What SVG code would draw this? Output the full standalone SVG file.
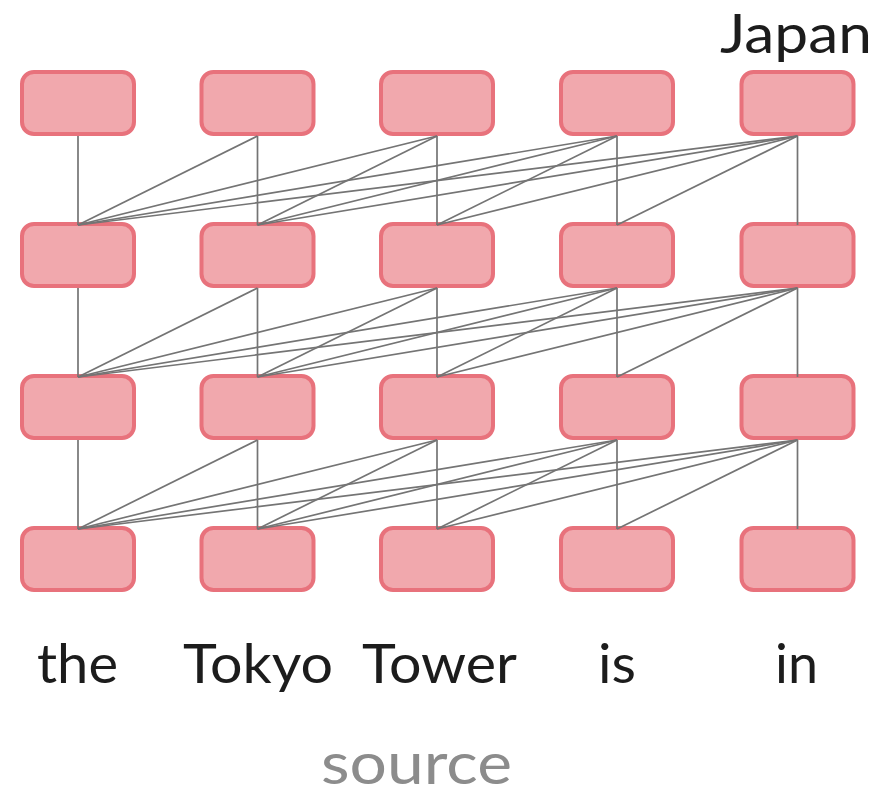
<svg xmlns="http://www.w3.org/2000/svg" width="882" height="797" viewBox="0 0 882 797">
  <style>
    .node { fill: #f1a8ad; stroke: #e8727c; stroke-width: 4; }
    .edges line { stroke: #747474; stroke-width: 1.7; }
    .lbl { font-family: Lato, "Liberation Sans", sans-serif; font-size: 54px; fill: #1c1c1c; text-anchor: middle; }
    .src { font-family: Lato, "Liberation Sans", sans-serif; font-size: 58px; fill: #8c8c8c; text-anchor: middle; }
  </style>
  <defs>
    <rect id="box" x="-56" y="2" width="112" height="62" rx="12" ry="12"/>
  </defs>

  <!-- layer 1 (top) -->
  <g id="n3-0" class="node"><use href="#box" x="78" y="70"/></g>
  <g id="n3-1" class="node"><use href="#box" x="257.5" y="70"/></g>
  <g id="n3-2" class="node"><use href="#box" x="437" y="70"/></g>
  <g id="n3-3" class="node"><use href="#box" x="617" y="70"/></g>
  <g id="n3-4" class="node"><use href="#box" x="797.5" y="70"/></g>
  <!-- layer 2 -->
  <g id="n2-0" class="node"><use href="#box" x="78" y="222"/></g>
  <g id="n2-1" class="node"><use href="#box" x="257.5" y="222"/></g>
  <g id="n2-2" class="node"><use href="#box" x="437" y="222"/></g>
  <g id="n2-3" class="node"><use href="#box" x="617" y="222"/></g>
  <g id="n2-4" class="node"><use href="#box" x="797.5" y="222"/></g>
  <!-- layer 3 -->
  <g id="n1-0" class="node"><use href="#box" x="78" y="374"/></g>
  <g id="n1-1" class="node"><use href="#box" x="257.5" y="374"/></g>
  <g id="n1-2" class="node"><use href="#box" x="437" y="374"/></g>
  <g id="n1-3" class="node"><use href="#box" x="617" y="374"/></g>
  <g id="n1-4" class="node"><use href="#box" x="797.5" y="374"/></g>
  <!-- input layer -->
  <g id="n0-0" class="node"><use href="#box" x="78" y="526"/></g>
  <g id="n0-1" class="node"><use href="#box" x="257.5" y="526"/></g>
  <g id="n0-2" class="node"><use href="#box" x="437" y="526"/></g>
  <g id="n0-3" class="node"><use href="#box" x="617" y="526"/></g>
  <g id="n0-4" class="node"><use href="#box" x="797.5" y="526"/></g>

  <!-- each node attends to itself and every node to its left in the layer below -->
  <g id="connectors" class="edges">
    <!-- layer 1 to layer 2 -->
    <line x1="78" y1="136" x2="78" y2="225"/>
    <line x1="257.5" y1="136" x2="78" y2="225"/>
    <line x1="257.5" y1="136" x2="257.5" y2="225"/>
    <line x1="437" y1="136" x2="78" y2="225"/>
    <line x1="437" y1="136" x2="257.5" y2="225"/>
    <line x1="437" y1="136" x2="437" y2="225"/>
    <line x1="617" y1="136" x2="78" y2="225"/>
    <line x1="617" y1="136" x2="257.5" y2="225"/>
    <line x1="617" y1="136" x2="437" y2="225"/>
    <line x1="617" y1="136" x2="617" y2="225"/>
    <line x1="797.5" y1="136" x2="78" y2="225"/>
    <line x1="797.5" y1="136" x2="257.5" y2="225"/>
    <line x1="797.5" y1="136" x2="437" y2="225"/>
    <line x1="797.5" y1="136" x2="617" y2="225"/>
    <line x1="797.5" y1="136" x2="797.5" y2="225"/>
    <!-- layer 2 to layer 3 -->
    <line x1="78" y1="288" x2="78" y2="377"/>
    <line x1="257.5" y1="288" x2="78" y2="377"/>
    <line x1="257.5" y1="288" x2="257.5" y2="377"/>
    <line x1="437" y1="288" x2="78" y2="377"/>
    <line x1="437" y1="288" x2="257.5" y2="377"/>
    <line x1="437" y1="288" x2="437" y2="377"/>
    <line x1="617" y1="288" x2="78" y2="377"/>
    <line x1="617" y1="288" x2="257.5" y2="377"/>
    <line x1="617" y1="288" x2="437" y2="377"/>
    <line x1="617" y1="288" x2="617" y2="377"/>
    <line x1="797.5" y1="288" x2="78" y2="377"/>
    <line x1="797.5" y1="288" x2="257.5" y2="377"/>
    <line x1="797.5" y1="288" x2="437" y2="377"/>
    <line x1="797.5" y1="288" x2="617" y2="377"/>
    <line x1="797.5" y1="288" x2="797.5" y2="377"/>
    <!-- layer 3 to input layer -->
    <line x1="78" y1="440" x2="78" y2="529"/>
    <line x1="257.5" y1="440" x2="78" y2="529"/>
    <line x1="257.5" y1="440" x2="257.5" y2="529"/>
    <line x1="437" y1="440" x2="78" y2="529"/>
    <line x1="437" y1="440" x2="257.5" y2="529"/>
    <line x1="437" y1="440" x2="437" y2="529"/>
    <line x1="617" y1="440" x2="78" y2="529"/>
    <line x1="617" y1="440" x2="257.5" y2="529"/>
    <line x1="617" y1="440" x2="437" y2="529"/>
    <line x1="617" y1="440" x2="617" y2="529"/>
    <line x1="797.5" y1="440" x2="78" y2="529"/>
    <line x1="797.5" y1="440" x2="257.5" y2="529"/>
    <line x1="797.5" y1="440" x2="437" y2="529"/>
    <line x1="797.5" y1="440" x2="617" y2="529"/>
    <line x1="797.5" y1="440" x2="797.5" y2="529"/>
  </g>

  <!-- output word -->
  <text class="lbl" x="796" y="53" textLength="152" lengthAdjust="spacingAndGlyphs">Japan</text>

  <!-- input words -->
  <text class="lbl" x="77.5" y="683" textLength="81" lengthAdjust="spacingAndGlyphs">the</text>
  <text class="lbl" x="258" y="683" textLength="150" lengthAdjust="spacingAndGlyphs">Tokyo</text>
  <text class="lbl" x="439.5" y="683" textLength="155" lengthAdjust="spacingAndGlyphs">Tower</text>
  <text class="lbl" x="617" y="683" textLength="38" lengthAdjust="spacingAndGlyphs">is</text>
  <text class="lbl" x="796.5" y="683" textLength="43" lengthAdjust="spacingAndGlyphs">in</text>

  <text class="src" x="416.5" y="784" textLength="191" lengthAdjust="spacingAndGlyphs">source</text>
</svg>
